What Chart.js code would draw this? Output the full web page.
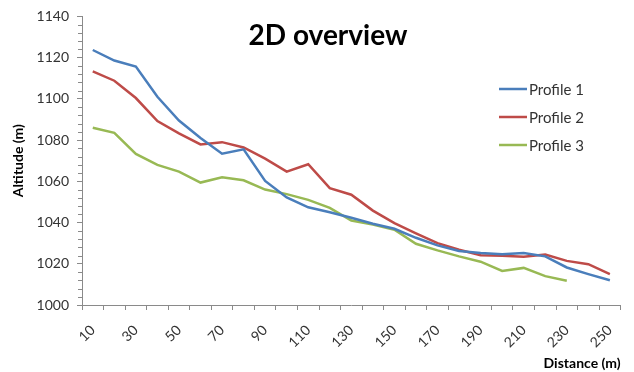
<!DOCTYPE html>
<html>
<head>
<meta charset="utf-8">
<script src="https://cdn.jsdelivr.net/npm/chart.js@4/dist/chart.umd.min.js"></script>
<style>
  html, body { margin: 0; padding: 0; background: #fff; }
  #wrap { width: 634px; height: 372px; position: relative; }
</style>
</head>
<body>
<div id="wrap"><canvas id="c" width="634" height="372"></canvas></div>
<script>
// Distance along each profile (m)
const distances = [10, 20, 30, 40, 50, 60, 70, 80, 90, 100, 110, 120, 130,
                   140, 150, 160, 170, 180, 190, 200, 210, 220, 230, 240, 250];

// Altitude (m) at each distance
const profile1 = [1123.7, 1118.6, 1115.7, 1101.0, 1089.5, 1081.0, 1073.4, 1075.5, 1060.2, 1052.2,
                  1047.4, 1045.0, 1042.3, 1039.4, 1037.0, 1032.6, 1028.9, 1026.2, 1025.2, 1024.6,
                  1025.2, 1023.6, 1018.2, 1015.0, 1012.0];
const profile2 = [1113.3, 1108.8, 1100.4, 1089.2, 1083.3, 1077.9, 1079.0, 1076.4, 1071.0, 1064.7,
                  1068.3, 1056.7, 1053.5, 1045.8, 1039.7, 1034.8, 1030.0, 1026.8, 1024.1, 1023.9,
                  1023.4, 1024.5, 1021.4, 1019.8, 1015.0];
const profile3 = [1086.0, 1083.5, 1073.3, 1068.0, 1064.7, 1059.4, 1062.0, 1060.5, 1056.0, 1053.8,
                  1051.0, 1047.1, 1041.0, 1039.0, 1036.5, 1029.7, 1026.5, 1023.6, 1021.0, 1016.5,
                  1018.0, 1014.0, 1011.8, null, null];

const seriesNames = ['Profile 1', 'Profile 2', 'Profile 3'];
const seriesColors = ['#4A7EBB', '#BE4B48', '#98B954'];
const chartTitle = '2D overview';
const yTitle = 'Altitude (m)';
const xTitle = 'Distance (m)';

const axisGray = '#8a8a8a';
const textColor = '#333333';
const FONT = 'Lato, "Open Sans", sans-serif';

// Title and legend sit inside the plot area; minor ticks on the value axis
const overlay = {
  id: 'overlay',
  afterDraw(chart) {
    const ctx = chart.ctx;
    const y = chart.scales.y;
    ctx.save();
    // minor ticks every 4 m
    ctx.strokeStyle = axisGray;
    ctx.lineWidth = 1;
    for (let v = 1000; v <= 1140; v += 4) {
      if (v % 20 === 0) continue;
      const py = Math.round(y.getPixelForValue(v)) + 0.5;
      ctx.beginPath();
      ctx.moveTo(y.right - 4, py);
      ctx.lineTo(y.right, py);
      ctx.stroke();
    }
    // title
    ctx.fillStyle = '#000';
    ctx.font = 'bold 28px ' + FONT;
    ctx.textAlign = 'center';
    ctx.textBaseline = 'middle';
    ctx.fillText(chartTitle, 328, 36);
    // legend
    ctx.font = '15px ' + FONT;
    ctx.textAlign = 'left';
    chart.data.datasets.forEach((ds, i) => {
      const ly = 89 + i * 28;
      ctx.strokeStyle = ds.borderColor;
      ctx.lineWidth = 2.5;
      ctx.beginPath();
      ctx.moveTo(499, ly);
      ctx.lineTo(527, ly);
      ctx.stroke();
      ctx.fillStyle = textColor;
      ctx.fillText(ds.label, 529, ly + 1);
    });
    ctx.restore();
  }
};

const series = [profile1, profile2, profile3];

new Chart(document.getElementById('c'), {
  type: 'line',
  data: {
    labels: distances,
    datasets: series.map((d, i) => ({
      label: seriesNames[i],
      data: d,
      borderColor: seriesColors[i],
      backgroundColor: seriesColors[i],
      borderWidth: 2.5,
      pointRadius: 0,
      tension: 0,
      fill: false
    }))
  },
  options: {
    responsive: false,
    animation: false,
    layout: { padding: { left: 0, right: 12, top: 14, bottom: 0 } },
    plugins: { legend: { display: false }, title: { display: false }, tooltip: { enabled: false } },
    scales: {
      x: {
        type: 'category',
        offset: true,
        grid: { display: true, drawOnChartArea: false, drawTicks: true, tickLength: 5, offset: true, color: axisGray },
        border: { display: true, color: axisGray, width: 1 },
        ticks: {
          autoSkip: false,
          minRotation: 45,
          maxRotation: 45,
          padding: 12,
          color: textColor,
          font: { family: FONT, size: 14 },
          callback(value, index) { return index % 2 === 0 ? String(distances[index]) : ''; }
        },
        title: {
          display: true, text: xTitle, align: 'end', color: '#000',
          font: { family: FONT, size: 14, weight: 'bold' },
          padding: { top: 2, bottom: 0 }
        },
        afterFit(s) { s.height = 67; }
      },
      y: {
        min: 1000,
        max: 1140,
        grid: { display: true, drawOnChartArea: false, drawTicks: true, tickLength: 5, color: axisGray },
        border: { display: true, color: axisGray, width: 1 },
        ticks: {
          stepSize: 20,
          padding: 8,
          color: textColor,
          font: { family: FONT, size: 14 },
          callback(value) { return String(value); }
        },
        title: {
          display: true, text: yTitle, color: '#000',
          font: { family: FONT, size: 14, weight: 'bold' },
          padding: { top: 10, bottom: 0 }
        },
        afterFit(s) { s.width = 82; }
      }
    }
  },
  plugins: [overlay]
});
</script>
</body>
</html>
